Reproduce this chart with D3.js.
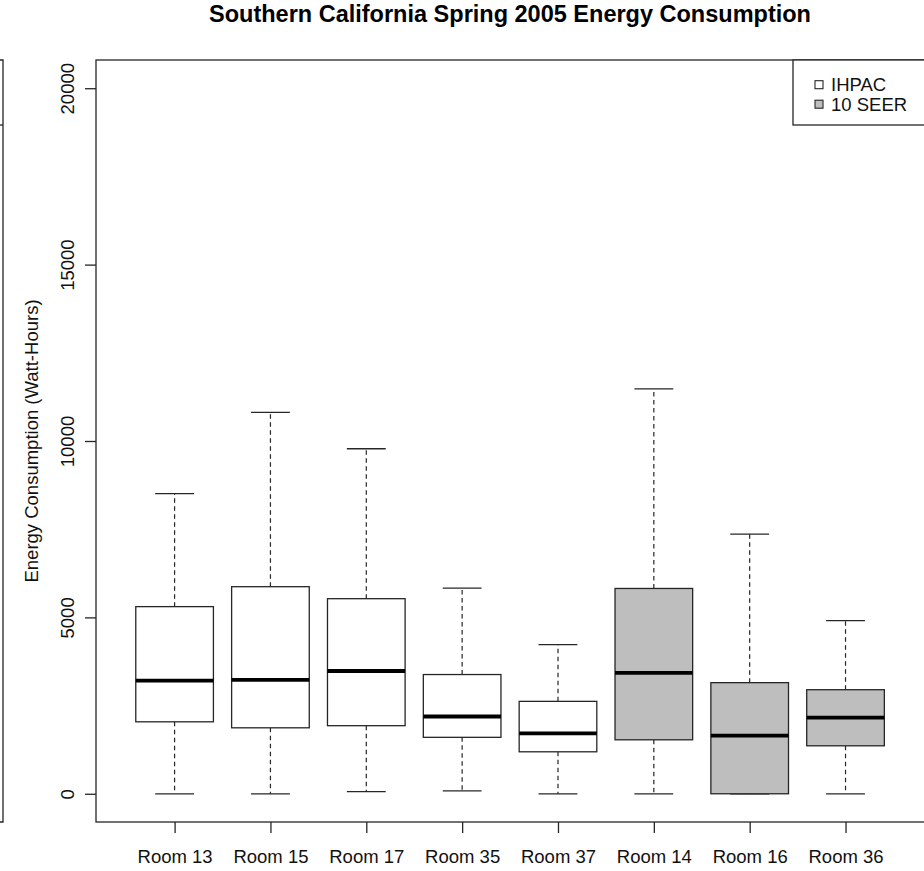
<!DOCTYPE html>
<html>
<head>
<meta charset="utf-8">
<script src="https://cdn.jsdelivr.net/npm/d3@7/dist/d3.min.js"></script>
<style>
  html, body { margin: 0; padding: 0; background: #fff; }
  svg { display: block; font-family: "Liberation Sans", Arial, sans-serif; }
</style>
</head>
<body>
<script>
// Room energy use, Southern California, spring 2005 (watt-hours)
const rooms = ["Room 13", "Room 15", "Room 17", "Room 35", "Room 37", "Room 14", "Room 16", "Room 36"];
const units = ["IHPAC", "IHPAC", "IHPAC", "IHPAC", "IHPAC", "10 SEER", "10 SEER", "10 SEER"];
const whiskerLow  = [0,    0,     60,   80,   0,    0,     0,    0];
const quartile1   = [2040, 1870,  1930, 1600, 1190, 1530,  0,    1360];
const medians     = [3210, 3230,  3480, 2190, 1710, 3430,  1650, 2160];
const quartile3   = [5305, 5870,  5530, 3380, 2620, 5820,  3150, 2950];
const whiskerHigh = [8510, 10810, 9780, 5830, 4230, 11480, 7360, 4910];
const yTicks = [0, 5000, 10000, 15000, 20000];
const legendLabels = ["IHPAC", "10 SEER"];
const legendFills = ["#ffffff", "#bebebe"];

const W = 924, H = 871;
const plot = { left: 96, right: 927, top: 60, bottom: 822 };
const ink = "#262626";

const svg = d3.select("body").append("svg").attr("width", W).attr("height", H);

const x = d3.scaleLinear().domain([0.18, 8.85]).range([plot.left, plot.right]);
const y = d3.scaleLinear().domain([-800, 20800]).range([plot.bottom, plot.top]);
const fill = d3.scaleOrdinal().domain(legendLabels).range(legendFills);

const boxW = x(1.405) - x(1);   // half box width in px
const capW = boxW / 2;

const data = rooms.map((r, i) => ({
  room: r, unit: units[i], pos: i + 1,
  lo: whiskerLow[i], q1: quartile1[i], med: medians[i], q3: quartile3[i], hi: whiskerHigh[i]
}));

// boxes
const g = svg.append("g").attr("fill", "none").attr("stroke", ink);
const boxes = g.selectAll("g.box").data(data).join("g").attr("class", "box");

boxes.append("line") // upper whisker
  .attr("x1", d => x(d.pos)).attr("x2", d => x(d.pos))
  .attr("y1", d => y(d.q3)).attr("y2", d => y(d.hi))
  .attr("stroke-width", 1.2).attr("stroke-dasharray", "4.5,3.5");
boxes.append("line") // lower whisker
  .attr("x1", d => x(d.pos)).attr("x2", d => x(d.pos))
  .attr("y1", d => y(d.q1)).attr("y2", d => y(d.lo))
  .attr("stroke-width", 1.2).attr("stroke-dasharray", "4.5,3.5");
boxes.append("line") // upper cap
  .attr("x1", d => x(d.pos) - capW).attr("x2", d => x(d.pos) + capW)
  .attr("y1", d => y(d.hi)).attr("y2", d => y(d.hi)).attr("stroke-width", 1.3);
boxes.append("line") // lower cap
  .attr("x1", d => x(d.pos) - capW).attr("x2", d => x(d.pos) + capW)
  .attr("y1", d => y(d.lo)).attr("y2", d => y(d.lo)).attr("stroke-width", 1.3);
boxes.append("rect")
  .attr("x", d => x(d.pos) - boxW).attr("width", 2 * boxW)
  .attr("y", d => y(d.q3)).attr("height", d => y(d.q1) - y(d.q3))
  .attr("fill", d => fill(d.unit)).attr("stroke-width", 1.3);
boxes.append("line") // median
  .attr("x1", d => x(d.pos) - boxW).attr("x2", d => x(d.pos) + boxW)
  .attr("y1", d => y(d.med)).attr("y2", d => y(d.med))
  .attr("stroke", "#000").attr("stroke-width", 3.8);

// frame
svg.append("rect")
  .attr("x", plot.left).attr("y", plot.top)
  .attr("width", plot.right - plot.left).attr("height", plot.bottom - plot.top)
  .attr("fill", "none").attr("stroke", ink).attr("stroke-width", 1.3);

// wrapped right edge of frame and legend at the far left
const edge = svg.append("g").attr("stroke", ink).attr("stroke-width", 1.3).attr("fill", "none");
edge.append("path").attr("d", `M0,${plot.top}H3V${plot.bottom}H0`);
edge.append("path").attr("d", "M0,125H3");

// y axis
const yAxis = svg.append("g").attr("transform", `translate(${plot.left},0)`)
  .call(d3.axisLeft(y).tickValues(yTicks).tickSize(11).tickFormat(d3.format("d")));
yAxis.select(".domain").remove();
yAxis.selectAll(".tick line").attr("stroke", ink).attr("stroke-width", 1.3);
yAxis.selectAll(".tick text")
  .attr("x", null).attr("dy", null)
  .attr("transform", "translate(-22,0) rotate(-90)")
  .attr("text-anchor", "middle")
  .attr("font-size", 18.5).attr("font-family", "Liberation Sans, Arial, sans-serif")
  .attr("fill", "#111");

// x axis
const xAxis = svg.append("g").attr("transform", `translate(0,${plot.bottom})`)
  .call(d3.axisBottom(x).tickValues(data.map(d => d.pos)).tickSize(11)
    .tickFormat(p => rooms[p - 1]));
xAxis.select(".domain").remove();
xAxis.selectAll(".tick line").attr("stroke", ink).attr("stroke-width", 1.3);
xAxis.selectAll(".tick text")
  .attr("y", 41).attr("dy", null)
  .attr("font-size", 18.5).attr("font-family", "Liberation Sans, Arial, sans-serif")
  .attr("fill", "#111");

// titles
svg.append("text")
  .attr("x", 510).attr("y", 22)
  .attr("text-anchor", "middle").attr("font-weight", "bold").attr("font-size", 23.5)
  .attr("fill", "#000")
  .text("Southern California Spring 2005 Energy Consumption");

svg.append("text")
  .attr("transform", `translate(38,${(plot.top + plot.bottom) / 2}) rotate(-90)`)
  .attr("text-anchor", "middle").attr("font-size", 18.5).attr("fill", "#111")
  .text("Energy Consumption (Watt-Hours)");

// legend
const leg = svg.append("g");
leg.append("rect")
  .attr("x", 793).attr("y", plot.top).attr("width", plot.right - 793).attr("height", 125 - plot.top)
  .attr("fill", "#fff").attr("stroke", ink).attr("stroke-width", 1.3);
const items = leg.selectAll("g.item").data(legendLabels).join("g")
  .attr("transform", (d, i) => `translate(0,${84.7 + i * 19.5})`);
items.append("rect")
  .attr("x", 815).attr("y", -4).attr("width", 8).attr("height", 8)
  .attr("fill", d => fill(d)).attr("stroke", ink).attr("stroke-width", 1.1);
items.append("text")
  .attr("x", 831).attr("y", 6.5).attr("font-size", 18.5).attr("fill", "#111")
  .text(d => d);
</script>
</body>
</html>
